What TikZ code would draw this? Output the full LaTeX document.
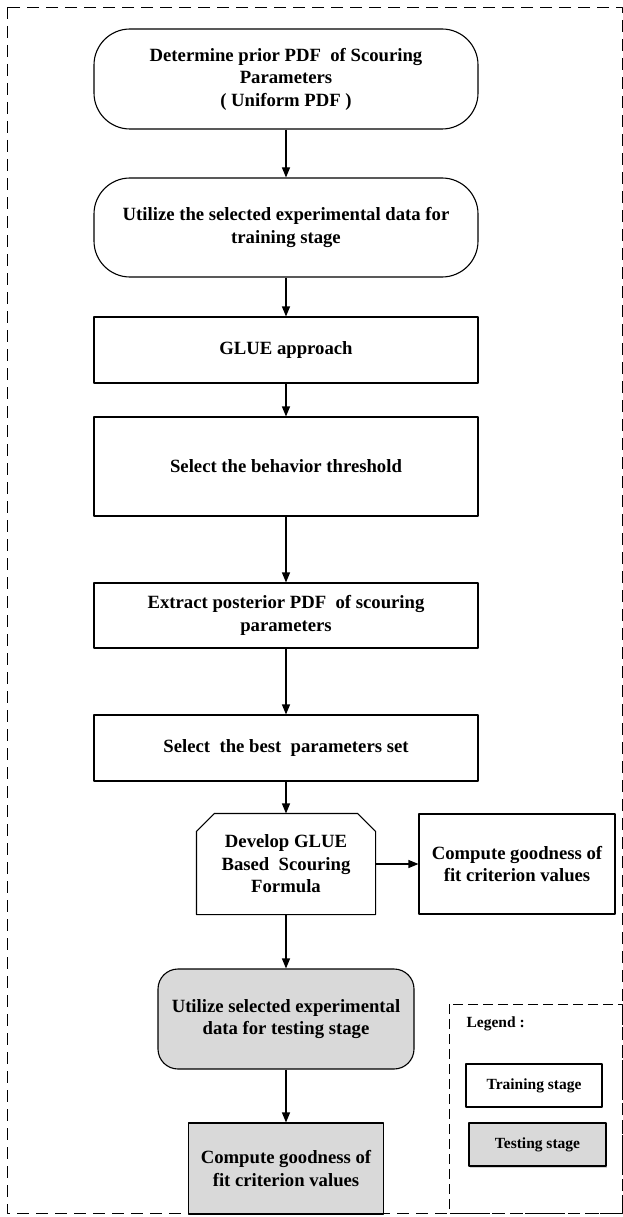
\documentclass[tikz,border=0pt]{standalone}
\usepackage{fontspec}
\setmainfont{Liberation Serif}
\usetikzlibrary{arrows.meta,shadows}

\begin{document}
\begin{tikzpicture}[x=1pt,y=-1pt,line join=round,
	font=\bfseries\fontsize{18.7}{22.5}\selectfont,
	>={Triangle[length=10pt,width=8pt]},
	flow/.style={->,line width=1.1pt},
	box/.style={draw,line width=1.1pt,align=center,inner sep=2pt},
	stadium/.style={box,rounded corners=36pt},
	testbox/.style={box,fill=gray!30},
	keyfont/.style={font=\bfseries\fontsize{15.5}{18}\selectfont}]
	\useasboundingbox (0,0) rectangle (623,1217);
	\draw[line width=0.9pt,dash pattern=on 12pt off 7pt] (7,7) rectangle (622,1213);
	\node[stadium,minimum width=384pt,minimum height=100pt] (prior) at (286,79) {Determine prior PDF\ \ of Scouring\\ Parameters\\ ( Uniform PDF )};
	\node[stadium,minimum width=384pt,minimum height=99pt] (training) at (286,227.5) {Utilize the selected experimental data for\\ training stage};
	\node[box,minimum width=384pt,minimum height=66pt] (glue) at (286,350) {GLUE approach};
	\node[box,minimum width=384pt,minimum height=99pt] (threshold) at (286,466.5) {Select the behavior threshold};
	\node[box,minimum width=384pt,minimum height=65pt] (posterior) at (286,615.5) {Extract posterior PDF\ \ of scouring\\ parameters};
	\node[box,minimum width=384pt,minimum height=66pt] (best) at (286,748) {Select\ \ the best\ \ parameters set};
	\node[box,draw=none,minimum width=178pt,minimum height=100pt] (develop) at (286,864) {Develop GLUE\\ Based\ \ Scouring\\ Formula};
	\draw[line width=1.1pt] ([xshift=18pt]develop.north west) -- ([xshift=-18pt]develop.north east) -- ([yshift=-18pt]develop.north east) -- (develop.south east) -- (develop.south west) -- ([yshift=-18pt]develop.north west) -- cycle;
	\node[box,minimum width=196pt,minimum height=100pt] (fitA) at (517,864) {Compute goodness of\\ fit criterion values};
	\node[testbox,rounded corners=20pt,minimum width=256pt,minimum height=100pt] (testing) at (286,1019) {Utilize selected experimental\\ data for testing stage};
	\node[testbox,minimum width=195pt,minimum height=91pt] (fitB) at (286,1168.5) {Compute goodness of\\ fit criterion values};
	\draw[line width=0.9pt,dash pattern=on 10pt off 5pt] (449,1004) rectangle (622,1213);
	\node[keyfont,anchor=west] (legend) at (463,1024) {Legend :};
	\node[box,keyfont,minimum width=136pt,minimum height=43pt] (trainkey) at (534,1085.5) {Training stage};
	\node[testbox,keyfont,drop shadow={shadow xshift=1pt,shadow yshift=-1.5pt,opacity=0.35},minimum width=137pt,minimum height=43pt] (testkey) at (537.5,1144.5) {Testing stage};
	\draw[flow] (prior) -- (training);
	\draw[flow] (training) -- (glue);
	\draw[flow] (glue) -- (threshold);
	\draw[flow] (threshold) -- (posterior);
	\draw[flow] (posterior) -- (best);
	\draw[flow] (best) -- (develop);
	\draw[flow] (develop) -- (fitA);
	\draw[flow] (develop) -- (testing);
	\draw[flow] (testing) -- (fitB);
\end{tikzpicture}
\end{document}
